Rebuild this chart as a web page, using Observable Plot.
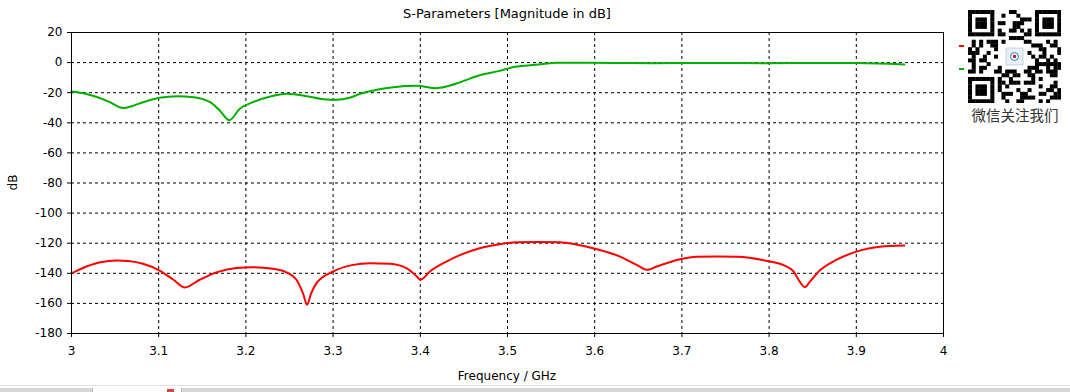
<!DOCTYPE html>
<html><head><meta charset="utf-8">
<script src="https://cdn.jsdelivr.net/npm/d3@7"></script>
<script src="https://cdn.jsdelivr.net/npm/@observablehq/plot@0.6"></script>
<style>
html,body{margin:0;padding:0;background:#fff}
body{width:1070px;height:392px;overflow:hidden;position:relative;font-family:"DejaVu Sans",sans-serif;color:#000}
#chart{position:absolute;left:0;top:0}
.lbl{position:absolute;white-space:nowrap;font-family:"DejaVu Sans",sans-serif}
</style></head><body>
<div id="chart"></div>
<div class="lbl" id="title" style="left:0;width:1014px;top:6px;font-size:13px;line-height:16px;text-align:center">S-Parameters [Magnitude in dB]</div>
<div class="lbl" id="xlabel" style="left:0;width:1014px;top:369px;font-size:12px;line-height:15px;text-align:center">Frequency / GHz</div>
<div class="lbl" id="ylabel" style="left:-7px;top:175px;width:40px;font-size:12px;line-height:15px;text-align:center;transform:rotate(-90deg)">dB</div>
<div id="qr" style="position:absolute;left:968px;top:10px;width:93px;height:93px"></div>
<div class="lbl" style="left:962px;width:106px;top:106px;font-size:14.5px;line-height:18px;text-align:center;color:#333;font-family:'Noto Sans CJK SC',sans-serif">微信关注我们</div>
<div style="position:absolute;left:959px;top:45px;width:5px;height:2px;background:#ff0000"></div>
<div style="position:absolute;left:959px;top:68px;width:5px;height:2px;background:#00b000"></div>
<div style="position:absolute;left:0;top:385px;width:1070px;height:1px;background:#e2e2e2"></div>
<div style="position:absolute;left:0;top:388px;width:1070px;height:4px;background:#d6d6d6"></div>
<div style="position:absolute;left:92px;top:388px;width:88px;height:4px;background:#fff;border-left:1px solid #bbb;border-right:1px solid #bbb"></div>
<div style="position:absolute;left:167px;top:389px;width:7px;height:3px;background:#e04040"></div>
<script>
// Tick values
const xTicks = [3, 3.1, 3.2, 3.3, 3.4, 3.5, 3.6, 3.7, 3.8, 3.9, 4];
const yTicks = [20, 0, -20, -40, -60, -80, -100, -120, -140, -160, -180];
const xGridTicks = [3.1, 3.2, 3.3, 3.4, 3.5, 3.6, 3.7, 3.8, 3.9];
const yGridTicks = [0, -20, -40, -60, -80, -100, -120, -140, -160];

// Green curve (S11)
const greenFreq = [3.000, 3.017, 3.030, 3.044, 3.059, 3.070, 3.082, 3.101, 3.121, 3.140, 3.159, 3.170, 3.181, 3.193, 3.208, 3.228, 3.247, 3.270, 3.289, 3.304, 3.319, 3.331, 3.350, 3.369, 3.396, 3.418, 3.430, 3.446, 3.468, 3.491, 3.506, 3.526, 3.541, 3.556, 3.580, 3.620, 3.667, 3.720, 3.800, 3.860, 3.900, 3.925, 3.945, 3.955];
const greenDb   = [-19.2, -20.8, -23.0, -26.3, -30.2, -28.8, -26.3, -23.4, -22.3, -23.0, -26.3, -31.8, -38.3, -30.7, -26.3, -22.5, -20.7, -22.3, -24.3, -24.7, -23.4, -20.7, -18.1, -16.3, -15.4, -17.0, -15.9, -13.0, -8.4, -5.5, -3.1, -1.8, -0.9, -0.1, -0.1, -0.2, -0.45, -0.2, -0.45, -0.2, -0.3, -0.6, -1.0, -1.2];

// Red curve (S21)
const redFreq = [3.000, 3.017, 3.033, 3.052, 3.065, 3.082, 3.101, 3.117, 3.130, 3.147, 3.167, 3.189, 3.208, 3.231, 3.247, 3.258, 3.266, 3.270, 3.275, 3.281, 3.300, 3.323, 3.342, 3.365, 3.384, 3.396, 3.400, 3.411, 3.430, 3.446, 3.468, 3.491, 3.511, 3.535, 3.560, 3.580, 3.598, 3.629, 3.648, 3.661, 3.671, 3.698, 3.717, 3.740, 3.763, 3.801, 3.816, 3.828, 3.835, 3.841, 3.847, 3.858, 3.877, 3.900, 3.927, 3.955];
const redDb   = [-140.1, -135.5, -132.6, -131.5, -131.9, -133.7, -138.2, -144.3, -149.4, -144.3, -139.2, -136.4, -135.9, -137.0, -139.5, -144.3, -154.2, -160.9, -153.1, -146.5, -138.8, -134.4, -133.3, -133.7, -136.6, -142.1, -144.3, -138.8, -132.2, -127.8, -123.3, -120.7, -119.4, -119.2, -119.4, -121.0, -123.3, -128.9, -134.4, -137.7, -135.5, -130.6, -129.0, -128.8, -129.0, -132.2, -134.4, -138.8, -145.4, -149.2, -145.4, -138.2, -131.1, -125.6, -122.3, -121.6];

const green = greenFreq.map((f, i) => ({f, db: greenDb[i]}));
const red = redFreq.map((f, i) => ({f, db: redDb[i]}));

const chart = Plot.plot({
  width: 1070,
  height: 392,
  marginLeft: 71,
  marginRight: 127,
  marginTop: 32,
  marginBottom: 59,
  style: {fontFamily: "DejaVu Sans, sans-serif", fontSize: "12px", color: "#000", background: "transparent", overflow: "visible"},
  x: {domain: [3, 4]},
  y: {domain: [-180, 20]},
  marks: [
    Plot.gridX({ticks: xGridTicks, stroke: "#000", strokeOpacity: 1, strokeDasharray: "3,3"}),
    Plot.gridY({ticks: yGridTicks, stroke: "#000", strokeOpacity: 1, strokeDasharray: "3,3"}),
    Plot.line(green, {x: "f", y: "db", stroke: "#00b000", strokeWidth: 2, curve: "monotone-x"}),
    Plot.line(red, {x: "f", y: "db", stroke: "#ff0000", strokeWidth: 2, curve: "monotone-x"}),
    Plot.frame({stroke: "#000", strokeWidth: 1}),
    Plot.axisX({ticks: xTicks, tickSize: 4, tickPadding: 9, tickFormat: d => String(d), label: null}),
    Plot.axisY({ticks: yTicks, tickSize: 4, tickPadding: 5, tickFormat: d => String(d), label: null})
  ]
});
document.getElementById("chart").appendChild(chart);

// QR-code-like decoration (deterministic pattern)
(function(){
  const n = 25, s = 93 / n;
  const svg = d3.select("#qr").append("svg").attr("width", 93).attr("height", 93);
  svg.append("rect").attr("width", 93).attr("height", 93).attr("fill", "#fff");
  const finder = (r, c) => (i, j) => {
    const a = i - r, b = j - c;
    if (a < 0 || b < 0 || a > 6 || b > 6) return null;
    if (a === 0 || a === 6 || b === 0 || b === 6) return 1;
    if (a >= 2 && a <= 4 && b >= 2 && b <= 4) return 1;
    return 0;
  };
  const fs = [finder(0,0), finder(0,18), finder(18,0)];
  for (let i = 0; i < n; i++) for (let j = 0; j < n; j++) {
    let v = null;
    for (const f of fs) { const r = f(i, j); if (r !== null) v = r; }
    const inSep = (i <= 7 && j <= 7) || (i <= 7 && j >= 17) || (i >= 17 && j <= 7);
    if (v === null) {
      if (inSep) v = 0;
      else if (i >= 9 && i <= 15 && j >= 9 && j <= 15) v = 0;
      else v = (((i * 7 + j * 11 + i * j * 3) ^ (i + 2 * j)) % 5) < 2 ? 1 : 0;
    }
    if (v) svg.append("rect").attr("x", j * s).attr("y", i * s).attr("width", s + 0.3).attr("height", s + 0.3).attr("fill", "#000");
  }
  const g = svg.append("g");
  g.append("rect").attr("x", 38).attr("y", 38).attr("width", 17).attr("height", 17).attr("fill", "#e8f0f8").attr("stroke", "#9ab").attr("stroke-width", 0.5);
  g.append("circle").attr("cx", 46.5).attr("cy", 46.5).attr("r", 4).attr("fill", "none").attr("stroke", "#4a7fc0").attr("stroke-width", 1);
  g.append("rect").attr("x", 45).attr("y", 45).attr("width", 3).attr("height", 3).attr("fill", "#c03030");
})();
</script>
</body></html>
